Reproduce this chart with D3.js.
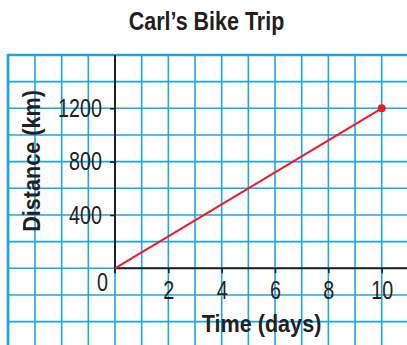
<!DOCTYPE html>
<html>
<head>
<meta charset="utf-8">
<script src="https://cdn.jsdelivr.net/npm/d3@7"></script>
<style>
  html, body { margin: 0; padding: 0; background: #fff; }
  svg { display: block; }
  text { font-family: "Liberation Sans", Arial, Helvetica, sans-serif; fill: #231f20; }
</style>
</head>
<body>
<svg id="chart" width="407" height="345"></svg>
<script>
// Carl's trip: distance travelled against time
const days = [0, 10];
const distanceKm = [0, 1200];
const xTicks = [2, 4, 6, 8, 10];
const yTicks = [400, 800, 1200];
const title = "Carl\u2019s Bike Trip";
const xTitle = "Time (days)";
const yTitle = "Distance (km)";

const W = 407, H = 345;
const ink = "#231f20";
const svg = d3.select("#chart");

// one grid square = 1 day across, 200 km up
const x = d3.scaleLinear().domain([0, 10]).range([115, 381.7]);
const y = d3.scaleLinear().domain([0, 1200]).range([268.3, 108.3]);

const gridBlue = "#1ba6e2";
const gridLeft = 8, gridTop = y(1600);

// narrow type: regular sans squeezed horizontally
const narrow = 0.76;
const tickSize = 26;

// grid
const g = svg.append("g");
const xGrid = d3.range(-4, 12, 1);
const yGrid = d3.range(-600, 1800, 200);
g.selectAll("line.v").data(xGrid).join("line")
  .attr("x1", d => x(d)).attr("x2", d => x(d))
  .attr("y1", gridTop).attr("y2", H)
  .attr("stroke", gridBlue).attr("stroke-width", 1.6);
g.selectAll("line.h").data(yGrid.filter(v => v <= 1600)).join("line")
  .attr("x1", gridLeft).attr("x2", W)
  .attr("y1", d => y(d)).attr("y2", d => y(d))
  .attr("stroke", gridBlue).attr("stroke-width", 1.6);
// heavier outer border on top and left
g.append("line").attr("x1", gridLeft).attr("x2", W).attr("y1", gridTop).attr("y2", gridTop)
  .attr("stroke", gridBlue).attr("stroke-width", 2.6);
g.append("line").attr("x1", gridLeft).attr("x2", gridLeft).attr("y1", gridTop - 1.3).attr("y2", H)
  .attr("stroke", gridBlue).attr("stroke-width", 2.6);

// axes
const xAxis = d3.axisBottom(x).tickValues(xTicks).tickSize(5).tickPadding(7).tickFormat(d3.format("d"));
const yAxis = d3.axisLeft(y).tickValues(yTicks).tickSize(5).tickFormat(d3.format("d"));

const gx = svg.append("g").attr("transform", `translate(0,${y(0)})`).call(xAxis);
gx.select(".domain").remove();
gx.append("line").attr("x1", x(0)).attr("x2", W).attr("y1", 0).attr("y2", 0)
  .attr("stroke", ink).attr("stroke-width", 2);
gx.selectAll(".tick line").attr("stroke", ink).attr("stroke-width", 1.6);
gx.selectAll(".tick text").attr("font-size", tickSize).attr("fill", ink)
  .attr("font-family", null)
  .attr("transform", `scale(${narrow},1)`);

const gy = svg.append("g").attr("transform", `translate(${x(0)},0)`).call(yAxis);
gy.select(".domain").remove();
gy.append("line").attr("x1", 0).attr("x2", 0).attr("y1", gridTop).attr("y2", y(0) + 5)
  .attr("stroke", ink).attr("stroke-width", 2);
gy.selectAll(".tick line").attr("stroke", ink).attr("stroke-width", 1.6);
gy.selectAll(".tick text").attr("font-size", tickSize).attr("fill", ink)
  .attr("font-family", null)
  .attr("x", 0).attr("dy", "0.32em")
  .attr("transform", `translate(-13,0) scale(${narrow},1)`);

// origin label
svg.append("text").attr("transform", `translate(${x(0) - 7},${y(0) + 23}) scale(${narrow},1)`)
  .attr("text-anchor", "end").attr("font-size", tickSize).text("0");

// trip line and end point
const pts = days.map((d, i) => [d, distanceKm[i]]);
svg.append("path").datum(pts)
  .attr("d", d3.line().x(d => x(d[0])).y(d => y(d[1])))
  .attr("fill", "none").attr("stroke", "#ec1c24").attr("stroke-width", 2);
svg.append("circle").attr("cx", x(days[1])).attr("cy", y(distanceKm[1])).attr("r", 4)
  .attr("fill", "#ec1c24");

// titles
svg.append("text").attr("transform", "translate(206.5,30) scale(0.86,1)").attr("text-anchor", "middle")
  .attr("font-size", 25).attr("font-weight", "bold").text(title);
svg.append("text").attr("transform", "translate(261.5,332) scale(0.92,1)").attr("text-anchor", "middle")
  .attr("font-size", 23.5).attr("font-weight", "bold").text(xTitle);
svg.append("text").attr("transform", "translate(40,161) rotate(-90) scale(0.92,1)").attr("text-anchor", "middle")
  .attr("font-size", 23.5).attr("font-weight", "bold").text(yTitle);
</script>
</body>
</html>
